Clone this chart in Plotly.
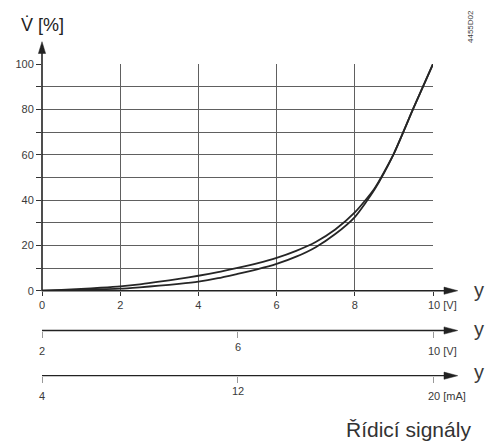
import plotly.graph_objects as go

# ---- data ----
signal_v = [0, 0.5, 1, 1.5, 2, 2.5, 3, 3.5, 4, 4.5, 5, 5.5, 6, 6.5, 7, 7.5, 8, 8.5, 9, 9.5, 10]
flow_upper = [0, 0.3, 0.8, 1.3, 1.9, 2.8, 4.0, 5.2, 6.6, 8.2, 10.1, 12.1, 14.5, 17.6, 21.5,
              27, 34.5, 45, 60.5, 80.5, 100]
flow_lower = [0, 0.1, 0.3, 0.6, 0.9, 1.5, 2.2, 3.0, 4.0, 5.5, 7.4, 9.4, 11.8, 15.0, 19.2,
              25, 32.5, 44.5, 60.5, 80.5, 100]

x_ticks = [0, 2, 4, 6, 8, 10]
x_labels = ["0", "2", "4", "6", "8", ""]
v2_ticks = [2, 6, 10]
v2_labels = ["2", "6", "10 [V]"]
ma_ticks = [4, 12, 20]
ma_labels = ["4", "12", "20 [mA]"]
y_ticks = list(range(0, 101, 10))
y_labels = [str(v) if v % 20 == 0 else "" for v in y_ticks]

# ---- geometry ----
W, H = 485, 441
L, R, T, B = 42, 52, 64, 40
PW, PH = W - L - R, H - T - B


def px(xp):
    return (xp - L) / PW


def py(yp):
    return (H - B - yp) / PH


Y0 = 290.7      # pixel row of main x axis
Y2 = 330.5      # second axis
Y3 = 375.7      # third axis
FONT = "Liberation Sans, Arial, sans-serif"
TXT = "#3a3a3a"
GRID = "#606060"

fig = go.Figure()
for ys in (flow_upper, flow_lower):
    fig.add_trace(go.Scatter(x=signal_v, y=ys, mode="lines",
                             line=dict(color="#262626", width=1.8, shape="spline", smoothing=0.6),
                             showlegend=False, hoverinfo="skip"))
# dummy traces so the extra axes exist
fig.add_trace(go.Scatter(x=v2_ticks, y=[None] * 3, xaxis="x2", mode="markers",
                         showlegend=False, hoverinfo="skip"))
fig.add_trace(go.Scatter(x=ma_ticks, y=[None] * 3, xaxis="x3", mode="markers",
                         showlegend=False, hoverinfo="skip"))

fig.update_layout(
    width=W, height=H, margin=dict(l=L, r=R, t=T, b=B),
    paper_bgcolor="white", plot_bgcolor="white",
    font=dict(family=FONT, size=11, color=TXT),
    xaxis=dict(range=[0, 10], tickvals=x_ticks, ticktext=x_labels, ticks="outside",
               ticklen=4, tickcolor="#333", tickwidth=1, showgrid=True, gridcolor=GRID,
               gridwidth=1, showline=False, zeroline=False, fixedrange=True),
    yaxis=dict(range=[0, 100], domain=[py(Y0), 1], tickvals=y_ticks, ticktext=y_labels,
               ticks="outside", ticklen=5, tickcolor="#333", tickwidth=1, showgrid=True,
               gridcolor=GRID, gridwidth=1, showline=False, zeroline=False, fixedrange=True),
    xaxis2=dict(range=[2, 10], overlaying="x", anchor="free", position=py(Y2),
                tickvals=v2_ticks, showticklabels=False, ticks="outside", ticklen=6,
                tickcolor="#999", showgrid=False, showline=False, zeroline=False),
    xaxis3=dict(range=[4, 20], overlaying="x", anchor="free", position=py(Y3),
                tickvals=ma_ticks, showticklabels=False, ticks="outside", ticklen=6,
                tickcolor="#999", showgrid=False, showline=False, zeroline=False),
)

shapes = []
# horizontal axis lines with arrows
for yy, w in ((Y0, 1.6), (Y2, 1.3), (Y3, 1.3)):
    shapes.append(dict(type="line", xref="paper", yref="paper", x0=px(42), x1=px(446),
                       y0=py(yy), y1=py(yy), line=dict(color="#222", width=w)))
    shapes.append(dict(type="path", xref="paper", yref="paper",
                       path=f"M {px(444)},{py(yy - 3.6)} L {px(457.7)},{py(yy)} L {px(444)},{py(yy + 3.6)} Z",
                       fillcolor="#222", line=dict(color="#222", width=0.5)))
# vertical axis with arrow
shapes.append(dict(type="line", xref="paper", yref="paper", x0=px(42), x1=px(42),
                   y0=py(Y0 + 0.5), y1=py(52), line=dict(color="#222", width=1.6)))
shapes.append(dict(type="path", xref="paper", yref="paper",
                   path=f"M {px(38.4)},{py(53.5)} L {px(42)},{py(41.7)} L {px(45.6)},{py(53.5)} Z",
                   fillcolor="#222", line=dict(color="#222", width=0.5)))
fig.update_layout(shapes=shapes)

ann = []
# end label of main axis
ann.append(dict(text="10 [V]", x=10, xref="x", y=py(305), yref="paper", xanchor="left",
                xshift=-7.5, yanchor="middle", showarrow=False, font=dict(size=11, color=TXT)))
# second axis labels
v2_rows = [350.7, 346.7, 350.5]
for v, lab, r in zip(v2_ticks, v2_labels, v2_rows):
    last = v == v2_ticks[-1]
    ann.append(dict(text=lab, x=v, xref="x2", y=py(r), yref="paper",
                    xanchor="left" if last else "center", xshift=-7.5 if last else 0,
                    yanchor="middle", showarrow=False, font=dict(size=11, color=TXT)))
ma_rows = [395.7, 391, 396]
for v, lab, r in zip(ma_ticks, ma_labels, ma_rows):
    last = v == ma_ticks[-1]
    ann.append(dict(text=lab, x=v, xref="x3", y=py(r), yref="paper",
                    xanchor="left" if last else "center", xshift=-7.5 if last else 0,
                    yanchor="middle", showarrow=False, font=dict(size=11, color=TXT)))
# "y" labels at arrow ends
for r in (289.5, 329, 371.5):
    ann.append(dict(text="y", x=px(478.5), xref="paper", y=py(r), yref="paper",
                    xanchor="center", yanchor="middle", showarrow=False,
                    font=dict(size=20, color=TXT)))
ann.append(dict(text="V\u0307 [%]", x=px(42.5), xref="paper", y=py(25), yref="paper",
                xanchor="center", yanchor="middle", showarrow=False,
                font=dict(size=18, color="#222")))
ann.append(dict(text="4455D02", x=px(470), xref="paper", y=py(27), yref="paper",
                xanchor="center", yanchor="middle", textangle=-90, showarrow=False,
                font=dict(size=8, color=TXT)))
ann.append(dict(text="Řídicí signály", x=px(473), xref="paper", y=py(429), yref="paper",
                xanchor="right", yanchor="middle", showarrow=False,
                font=dict(size=21, color="#333")))
fig.update_layout(annotations=ann)

fig.write_html("out.html")
